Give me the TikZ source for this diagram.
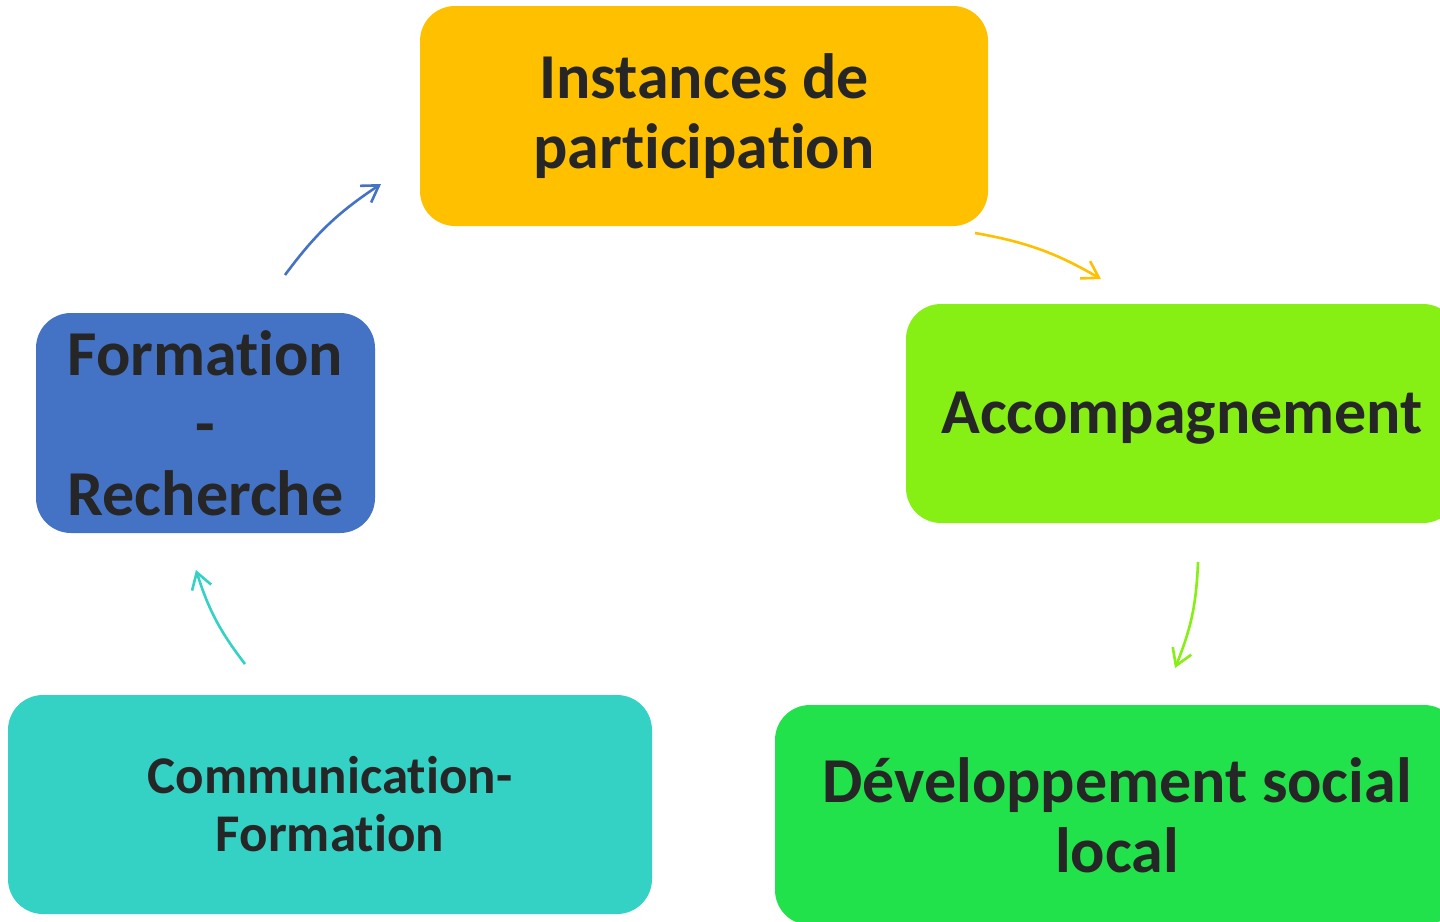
\documentclass[tikz,border=0pt]{standalone}
\usepackage{fontspec}
\setmainfont[Ligatures={NoCommon}]{Carlito}
\usepackage{xcolor}
\usetikzlibrary{arrows.meta}
\definecolor{jaune}{HTML}{FFC000}
\definecolor{citron}{HTML}{86EF13}
\definecolor{vert}{HTML}{22E24B}
\definecolor{turquoise}{HTML}{34D1C5}
\definecolor{bleu}{HTML}{4472C4}
\definecolor{texte}{HTML}{262626}
\begin{document}
\begin{tikzpicture}[x=0.5pt, y=0.5pt,
  bloc/.style={rounded corners=17.5pt, inner sep=0pt, align=center, text=texte,
    font=\fontsize{32}{35}\selectfont\bfseries},
  fleche/.style={-{Straight Barb[length=8pt, width=10pt]}, line width=1.3pt, bend left=10}]
\useasboundingbox[fill=white] (0,0) rectangle (1440,-921);
\node[bloc, fill=jaune, minimum width=284pt, minimum height=110pt] (instances) at (704,-116) {Instances de\\participation};
\node[bloc, fill=citron, minimum width=276pt, minimum height=109.5pt] (accomp) at (1182,-413.5) {\raisebox{-2.5pt}[\height][\depth]{Accompagnement}};
\node[bloc, fill=vert, minimum width=342pt, minimum height=110pt] (devel) at (1117,-815) {Développement social\\local};
\node[bloc, fill=turquoise, minimum width=322pt, minimum height=109.5pt, font=\fontsize{26.5}{29}\selectfont\bfseries] (comm) at (330,-804.5) {Communication-\\Formation};
\node[bloc, fill=bleu, minimum width=169.5pt, minimum height=110pt] (formrech) at (205.5,-423) {Formation\\-\\Recherche};
% extremites libres des fleches
\coordinate (b1) at (285,-275);
\coordinate (b2) at (381,-184);
\coordinate (j1) at (975,-233);
\coordinate (j2) at (1101,-279);
\coordinate (c1) at (1198,-562);
\coordinate (c2) at (1175,-668);
\coordinate (t1) at (245,-664);
\coordinate (t2) at (196,-570);
\draw[fleche, bleu] (b1) to (b2);
\draw[fleche, jaune] (j1) to (j2);
\draw[fleche, citron] (c1) to (c2);
\draw[fleche, turquoise] (t1) to (t2);
\end{tikzpicture}
\end{document}
